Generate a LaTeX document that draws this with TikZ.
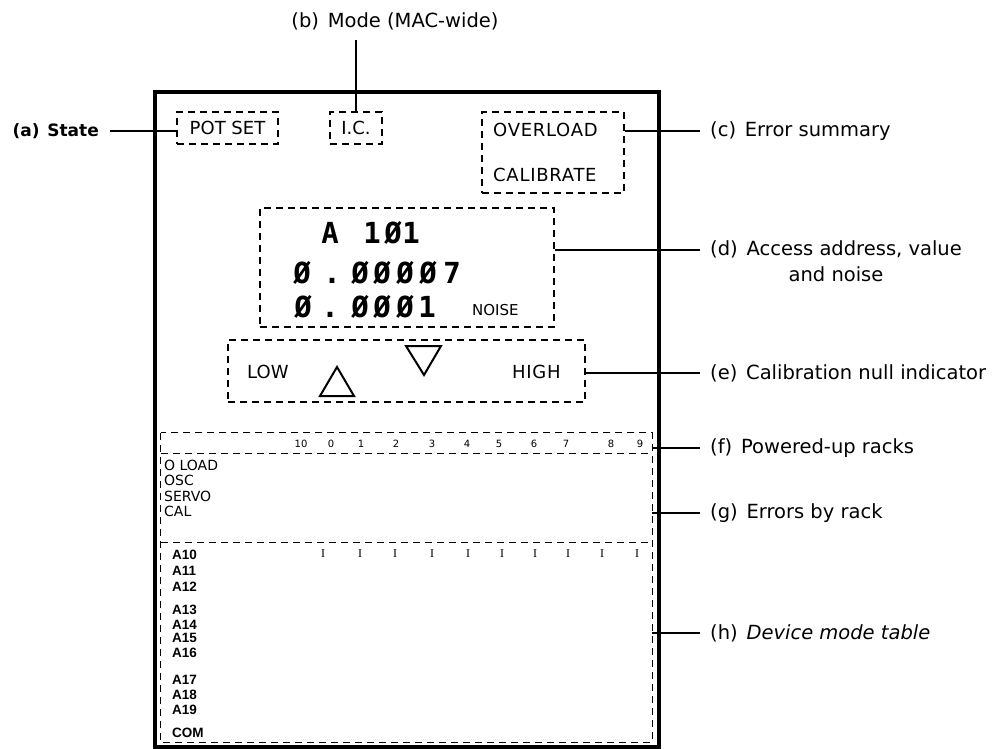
\documentclass[tikz,border=0pt]{standalone}
\usepackage{fontspec}
\setmainfont{DejaVu Sans}
\newfontfamily\dispfont{DejaVu Sans Mono}
\newfontfamily\narrowfont{Liberation Sans}
\newfontfamily\serfont{Liberation Serif}
\newfontfamily\widefont{DejaVu Sans}[LetterSpace=4]
\begin{document}
\begin{tikzpicture}[x=1pt,y=-1pt,
  lab/.style={font=\fontsize{19.5}{26}\selectfont, anchor=west, inner sep=0pt},
  dashline/.style={line width=1.3pt, dash pattern=on 7pt off 5pt},
  dbox/.style={draw, dashline, inner sep=0pt},
  ebox/.style={inner sep=0pt},
  ptext/.style={font=\fontsize{18}{22}\selectfont, inner sep=0pt},
  leader/.style={line width=1.2pt},
  frame/.style={line width=4pt},
  dchar/.style={font=\dispfont\bfseries\fontsize{29}{30}\selectfont, inner sep=0pt, anchor=base},
  rnum/.style={font=\fontsize{10}{12}\selectfont, inner sep=0pt},
  tick/.style={font=\serfont\fontsize{12}{14}\selectfont, inner sep=0pt},
  rowlab/.style={font=\fontsize{14}{16}\selectfont, inner sep=0pt, anchor=west},
  alab/.style={font=\narrowfont\bfseries\fontsize{13.5}{15}\selectfont, inner sep=0pt, anchor=west}]
\useasboundingbox (0,0) rectangle (998,749);

% panel frame
\draw[frame] (155,92) rectangle (659,747);

% top boxes
\node[dbox, ptext, minimum width=101pt, minimum height=32pt] (pot) at (227.5,128) {POT SET};
\node[dbox, ptext, minimum width=52pt, minimum height=32pt] (ic) at (356,128) {I.C.};
\node[dbox, minimum width=142pt, minimum height=81pt] (err) at (553,152.5) {};
\node[ptext, font=\widefont\fontsize{18}{22}\selectfont, anchor=base west] (ovl) at (493,136) {OVERLOAD};
\node[ptext, font=\widefont\fontsize{18}{22}\selectfont, anchor=base west] (calb) at (493,181) {CALIBRATE};

% display box
\node[dbox, minimum width=294pt, minimum height=119pt] (disp) at (407,267.5) {};
\foreach \xx/\cc [count=\k] in {330/A,372/1,393/Ø,411/1}
  \node[dchar] (da\k) at (\xx,243) {\cc};
\foreach \xx/\cc [count=\k] in {302/Ø,332/.,360/Ø,382/Ø,405/Ø,428/Ø,452/7}
  \node[dchar] (db\k) at (\xx,283) {\cc};
\foreach \xx/\cc [count=\k] in {303/Ø,330/.,360/Ø,382/Ø,405/Ø,427/1}
  \node[dchar] (dc\k) at (\xx,317) {\cc};
\node[ptext, font=\fontsize{15}{18}\selectfont, anchor=base west] (noise) at (472,315) {NOISE};

% calibration box
\node[dbox, minimum width=357pt, minimum height=62pt] (cal) at (406.5,371) {};
\node[ptext, anchor=base west] (low) at (247,378) {LOW};
\node[ptext, font=\widefont\fontsize{18}{22}\selectfont, anchor=base west] (high) at (512,378) {HIGH};
\draw[line width=2pt, line join=miter] (320,396) -- (354,396) -- (337,367) -- cycle;
\draw[line width=2pt, line join=miter] (406,346) -- (441,346) -- (424,375) -- cycle;

% rack tables
\node[ebox, minimum width=491pt, minimum height=20pt] (racks) at (406.5,443) {};
\node[ebox, minimum width=491pt, minimum height=90pt] (errs) at (406.5,498) {};
\node[ebox, minimum width=491pt, minimum height=199pt] (dev) at (406.5,642.5) {};
\draw[dashline] (racks.north west) rectangle (dev.south east);
\draw[dashline] (racks.south west) -- (racks.south east);
\draw[dashline] (dev.north west) -- (dev.north east);

\foreach \xx/\nn [count=\k] in {301/10,331/0,361/1,396/2,432/3,467/4,499/5,534/6,566/7,611/8,640/9}
  \node[rnum] (rn\k) at (\xx,444) {\nn};
\foreach \xx [count=\k] in {323,360,395,432,468,502,535,568,602,637}
  \node[tick] (tk\k) at (\xx,554) {I};

\foreach \yy/\tt [count=\k] in {465/O LOAD,480/OSC,496/SERVO,511/CAL}
  \node[rowlab] (rl\k) at (164,\yy) {\tt};
\foreach \yy/\tt [count=\k] in {555/A10,571/A11,587/A12,610/A13,625/A14,638/A15,653/A16,680/A17,695/A18,710/A19,733/COM}
  \node[alab] (al\k) at (172,\yy) {\tt};

% leader lines and labels
\node[lab, anchor=east, font=\bfseries\fontsize{17}{20}\selectfont] (la) at (99,131) {(a)\hspace{0.45em}State};
\coordinate (aend) at (110,131);
\draw[leader] (aend) -- (aend -| pot.west);

\node[lab, anchor=base] (lb) at (395,28) {(b)\hspace{0.45em}Mode (MAC-wide)};
\coordinate (bend) at (356,40);
\draw[leader] (bend) -- (bend |- ic.north);

\coordinate (cend) at (700,131);
\draw[leader] (cend -| err.east) -- (cend);
\node[lab] (lc) at (710,131) {(c)\hspace{0.45em}Error summary};

\coordinate (dend) at (700,250);
\draw[leader] (dend -| disp.east) -- (dend);
\node[lab, anchor=north west, align=center] (ld) at (710,240) {(d)\hspace{0.45em}Access address, value\\and noise};

\coordinate (eend) at (700,373);
\draw[leader] (eend -| cal.east) -- (eend);
\node[lab] (le) at (710,373) {(e)\hspace{0.45em}Calibration null indicator};

\coordinate (fend) at (700,448);
\draw[leader] (fend -| racks.east) -- (fend);
\node[lab] (lf) at (710,448) {(f)\hspace{0.45em}Powered-up racks};

\coordinate (gend) at (700,513);
\draw[leader] (gend -| errs.east) -- (gend);
\node[lab] (lg) at (710,513) {(g)\hspace{0.45em}Errors by rack};

\coordinate (hend) at (700,633);
\draw[leader] (hend -| dev.east) -- (hend);
\node[lab] (lh) at (710,633) {(h)\hspace{0.45em}\itshape Device mode table};
\end{tikzpicture}
\end{document}
